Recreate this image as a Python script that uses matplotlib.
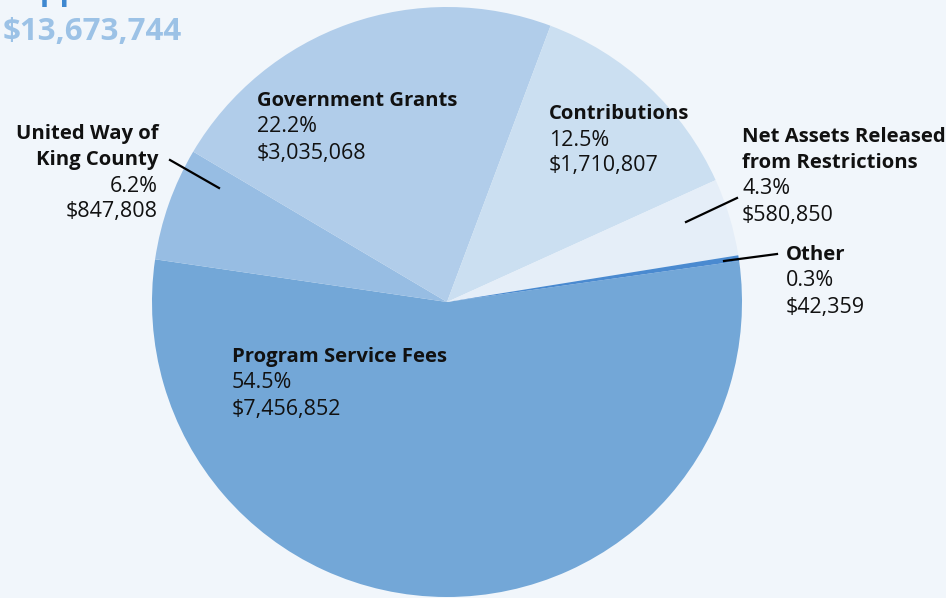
import matplotlib.pyplot as plt

# revenue sources, clockwise from the right edge
labels = [["Program Service Fees"], ["United Way of", "King County"], ["Government Grants"],
          ["Contributions"], ["Net Assets Released", "from Restrictions"], ["Other"]]
amounts = [7456852, 847808, 3035068, 1710807, 580850, 42359]
percents = ["54.5%", "6.2%", "22.2%", "12.5%", "4.3%", "0.3%"]
money = ["$7,456,852", "$847,808", "$3,035,068", "$1,710,807", "$580,850", "$42,359"]
total = "$13,673,744"

colors = ["#73a7d7", "#97bde3", "#b1cdea", "#cbdff1", "#e5eef8", "#4a8ad0"]
bg = "#f1f6fb"

plt.rcParams['font.family'] = ['Open Sans', 'DejaVu Sans']

W, H = 946, 598
fig = plt.figure(figsize=(W / 100, H / 100), dpi=100, facecolor=bg)

# pie axes: centre (447, 302) px, radius 295 px
cx, cy, r = 447, 302, 295
ax = fig.add_axes([(cx - r) / W, (H - cy - r) / H, 2 * r / W, 2 * r / H])
ax.pie(amounts, colors=colors, startangle=8, counterclock=False,
       wedgeprops=dict(linewidth=0))
ax.set_xlim(-1, 1)
ax.set_ylim(-1, 1)
ax.set_facecolor(bg)
ax.axis("off")

# overlay in pixel coords for labels and leader lines
ov = fig.add_axes([0, 0, 1, 1])
ov.set_xlim(0, W)
ov.set_ylim(H, 0)
ov.axis("off")
ov.patch.set_alpha(0)

fs_b = 14.6
fs_r = 15.5
lh = 26
# (x, y of first line, alignment)
spots = [(232, 357, "left"), (158, 134, "right"), (257, 101, "left"),
         (549, 114, "left"), (742, 137, "left"), (786, 255, "left")]
for lab, pct, m, (x, y, ha) in zip(labels, percents, money, spots):
    for i, line in enumerate(lab):
        ov.text(x, y + i * lh, line, ha=ha, va="center", fontsize=fs_b,
                fontweight="bold", color="#111111")
    n = len(lab)
    ov.text(x, y + n * lh, pct, ha=ha, va="center", fontsize=fs_r, color="#111111")
    ov.text(x, y + (n + 1) * lh, m, ha=ha, va="center", fontsize=fs_r, color="#111111")

# leader lines
ov.plot([170, 219], [160, 188], color="black", lw=1.6)
ov.plot([686, 737], [222, 198], color="black", lw=1.6)
ov.plot([724, 777], [261, 254], color="black", lw=1.6)

# title (top line cut off by the frame, as in the source)
ov.text(3, 0, "Support", ha="left", va="baseline", fontsize=22.5, fontweight="bold",
        color="#3f88d0")
ov.text(3, 40, total, ha="left", va="baseline", fontsize=22.5, fontweight="bold",
        color="#9cc2e6")

fig.savefig("out.png", dpi=100, facecolor=bg)
